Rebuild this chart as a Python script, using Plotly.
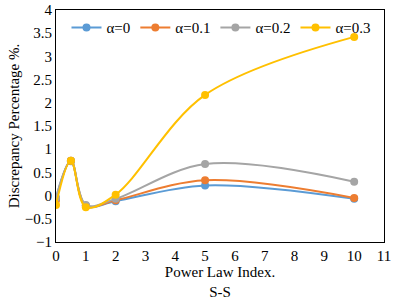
import plotly.graph_objects as go

x_vals = [0, 0.5, 1, 2, 5, 10]
series_names = ["α=0", "α=0.1", "α=0.2", "α=0.3"]
a0 = [-0.05, 0.74, -0.22, -0.12, 0.22, -0.07]
a01 = [-0.1, 0.75, -0.22, -0.1, 0.33, -0.05]
a02 = [-0.05, 0.75, -0.2, -0.07, 0.68, 0.3]
a03 = [-0.2, 0.75, -0.25, 0.02, 2.17, 3.42]
colors = ["#5B9BD5", "#ED7D31", "#A5A5A5", "#FFC000"]

fig = go.Figure()
for name, ys, c in zip(series_names, [a0, a01, a02, a03], colors):
    fig.add_trace(go.Scatter(
        x=x_vals, y=ys, name=name, mode="lines+markers",
        line=dict(color=c, width=2, shape="spline", smoothing=1),
        marker=dict(color=c, size=8),
    ))

font = "Liberation Serif"
fig.update_layout(
    width=401, height=305,
    margin=dict(l=56, r=17, t=10, b=63, autoexpand=False),
    paper_bgcolor="white", plot_bgcolor="white",
    font=dict(family=font, size=15, color="black"),
    showlegend=True,
    legend=dict(orientation="h", x=0.032, y=0.995, xanchor="left", yanchor="top",
                bgcolor="rgba(0,0,0,0)", font=dict(family=font, size=15),
                itemwidth=30, tracegroupgap=0),
    xaxis=dict(range=[0, 11], dtick=1, showgrid=False, zeroline=False,
               showline=True, linecolor="black", linewidth=1, mirror=True,
               ticks="", tickfont=dict(family=font, size=15), automargin=False,
               title=dict(text="Power Law Index.<br>S-S", font=dict(family=font, size=15), standoff=2)),
    yaxis=dict(range=[-1, 4], dtick=0.5, showgrid=False, zeroline=False,
               showline=True, linecolor="black", linewidth=1, mirror=True,
               ticks="", tickfont=dict(family=font, size=15), automargin=False,
               title=dict(text="Discrepancy Percentage %.", font=dict(family=font, size=15), standoff=1)),
)
fig.write_html("out.html", config={"displayModeBar": False},
               post_script="document.body.style.margin='0';")
